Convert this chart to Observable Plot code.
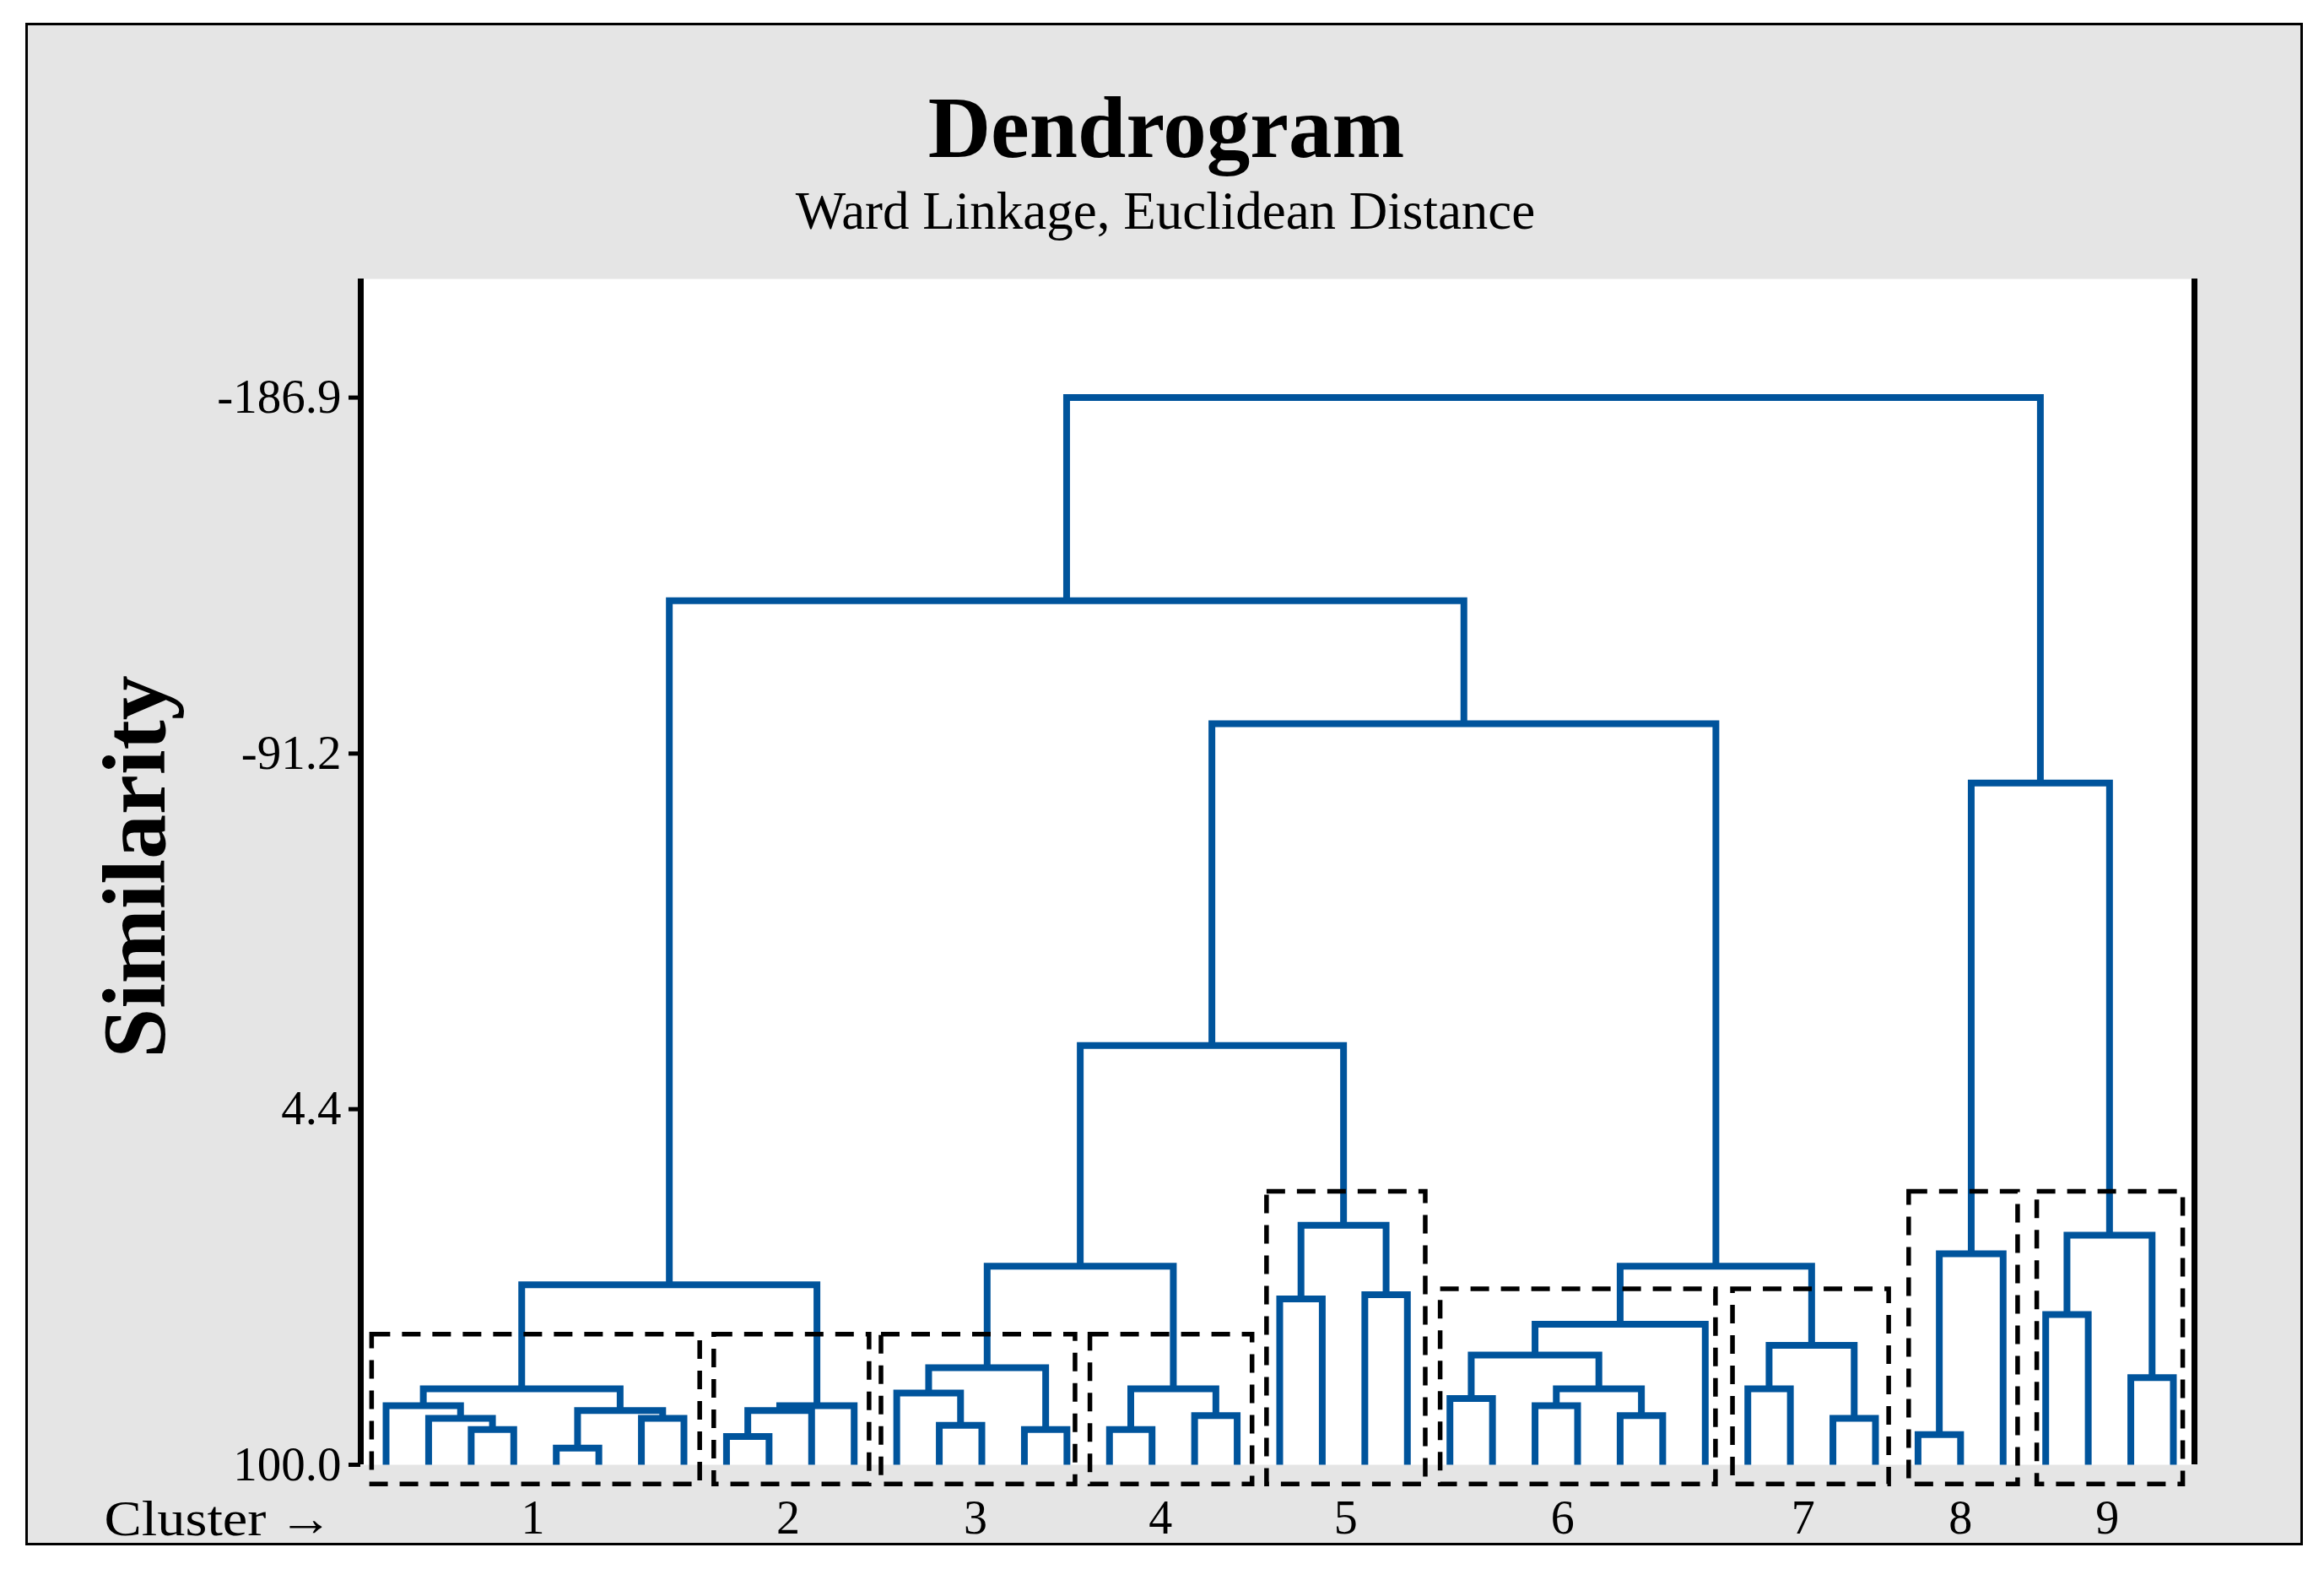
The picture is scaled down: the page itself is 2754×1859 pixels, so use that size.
<!DOCTYPE html>
<html>
<head>
<meta charset="utf-8">
<script src="https://cdn.jsdelivr.net/npm/d3@7"></script>
<script src="https://cdn.jsdelivr.net/npm/@observablehq/plot@0.6"></script>
<style>
  html, body { margin: 0; padding: 0; background: #ffffff; }
  #page { position: relative; width: 2754px; height: 1859px; overflow: hidden; }
  #panel { position: absolute; left: 30px; top: 27px; width: 2699px; height: 1804px;
           box-sizing: border-box; border: 3px solid #000; background: #e5e5e5; }
  #chart { position: absolute; left: 0; top: 0; }
</style>
</head>
<body>
<div id="page"><div id="panel"></div><div id="chart"></div></div>
<script>
// ---------- data ----------
const title = "Dendrogram";
const subtitle = "Ward Linkage, Euclidean Distance";
const yLabel = "Similarity";
const clusterCaption = "Cluster \u2192";
const yTicks = [100.0, 4.4, -91.2, -186.9];
const leafCount = 43;            // observations, leaves 0..42 in display order
const leafSimilarity = 100;
// merges: node ids 0..42 are leaves, merge k gets id 43 + k
const mergeA = [2, 1, 0, 4, 6, 46, 45, 8, 50, 51, 49, 13, 12, 15, 55, 17, 19, 58, 57, 21, 23, 62, 61,
                25, 27, 29, 67, 66, 70, 32, 34, 72, 71, 65, 53, 36, 78, 39, 41, 80, 79, 77];
const mergeB = [3, 43, 44, 5, 7, 47, 48, 9, 10, 11, 52, 14, 54, 16, 56, 18, 20, 59, 60, 22, 24, 63, 64,
                26, 28, 30, 68, 69, 31, 33, 35, 73, 74, 75, 76, 37, 38, 40, 42, 81, 82, 83];
const mergeSim = [90.5, 87.5, 84.1, 95.5, 87.5, 85.4, 79.6, 92.4, 85.4, 84.1, 51.6, 89.4, 80.7, 90.5,
                  73.9, 90.5, 86.8, 79.6, 46.6, 55.4, 54.3, 35.6, -12.7, 82.2, 84.1, 86.8, 79.6, 70.5,
                  62.2, 79.6, 87.5, 67.9, 46.6, -99.2, -132.3, 91.9, 43.3, 59.6, 76.6, 38.3, -83.3, -186.9];
// final clusters (dashed boxes), in leaf-index units and similarity units
const clusterNames = ["1", "2", "3", "4", "5", "6", "7", "8", "9"];
const clusterLabelAt = [3.45, 9.45, 13.85, 18.2, 22.55, 27.65, 33.3, 37.0, 40.45];
const boxFrom = [-0.33, 7.71, 11.64, 16.55, 20.7, 24.78, 31.65, 35.79, 38.8];
const boxTo   = [7.38, 11.36, 16.2, 20.36, 24.43, 31.25, 35.32, 38.35, 42.23];
const boxTop  = [65.0, 65.0, 65.0, 65.0, 26.6, 52.8, 52.8, 26.6, 26.6];
const boxBottom = 105.3;

// ---------- build tree geometry (data units) ----------
const nodeX = d3.range(leafCount);
const nodeH = d3.range(leafCount).map(() => leafSimilarity);
const links = [];
mergeA.forEach((a, k) => {
  const b = mergeB[k], h = mergeSim[k];
  nodeX.push((nodeX[a] + nodeX[b]) / 2);
  nodeH.push(h);
  links.push({id: k, x: nodeX[a], y: nodeH[a]});
  links.push({id: k, x: nodeX[a], y: h});
  links.push({id: k, x: nodeX[b], y: h});
  links.push({id: k, x: nodeX[b], y: nodeH[b]});
});
const boxes = clusterNames.map((n, i) => ({n, x1: boxFrom[i], x2: boxTo[i], y1: boxTop[i], y2: boxBottom}));
const labels = clusterNames.map((n, i) => ({n, x: clusterLabelAt[i]}));

const xDomain = [-0.595, 42.496];
const yDomain = [100, -218.8];
const serif = "'Liberation Serif', 'Times New Roman', serif";
const blue = "#00549c";

const chart = Plot.plot({
  width: 2754,
  height: 1859,
  marginLeft: 427,
  marginRight: 154,
  marginTop: 330,
  marginBottom: 124,
  style: {background: "transparent", fontFamily: serif, color: "black"},
  x: {domain: xDomain, axis: null},
  y: {domain: yDomain, axis: null},
  marks: [
    Plot.frame({fill: "white", stroke: "none"}),
    Plot.line(links, {x: "x", y: "y", z: "id", stroke: blue, strokeWidth: 8,
      strokeLinejoin: "miter", strokeLinecap: "butt", strokeMiterlimit: 10}),
    Plot.rect(boxes, {x1: "x1", x2: "x2", y1: "y1", y2: "y2", fill: "none", stroke: "black",
      strokeWidth: 5.5, strokeDasharray: "22,14"}),
    Plot.ruleX([xDomain[0], xDomain[1]], {stroke: "black", strokeWidth: 7}),
    Plot.axisY({ticks: yTicks, tickFormat: d => d.toFixed(1), tickSize: 14, tickPadding: 9,
      fontSize: 57, fontFamily: serif, strokeWidth: 5, color: "black", label: null}),
    Plot.text(labels, {x: "x", text: "n", frameAnchor: "bottom", lineAnchor: "middle", dy: 64,
      fontSize: 56, fontFamily: serif, fill: "black"}),
    Plot.text([clusterCaption], {frameAnchor: "bottom-left", textAnchor: "start", lineAnchor: "middle",
      dx: -304, dy: 64, fontSize: 60, fontFamily: serif, fill: "black"}),
    Plot.text([yLabel], {frameAnchor: "left", textAnchor: "middle", lineAnchor: "middle", rotate: -90,
      dx: -266, dy: -6, fontSize: 106, fontWeight: "bold", fontFamily: serif, fill: "black"}),
    Plot.text([title], {frameAnchor: "top", textAnchor: "middle", lineAnchor: "middle", dx: -132, dy: -177,
      fontSize: 103, fontWeight: "bold", fontFamily: serif, fill: "black"}),
    Plot.text([subtitle], {frameAnchor: "top", textAnchor: "middle", lineAnchor: "middle", dx: -133, dy: -80,
      fontSize: 63, fontFamily: serif, fill: "black"})
  ]
});
document.getElementById("chart").appendChild(chart);

// the original's caption is set slightly wide with a long thin arrow: stretch the same text element
d3.select(chart).selectAll("text").each(function() {
  if (this.textContent === clusterCaption) {
    const t = d3.select(this);
    t.text(null);
    t.append("tspan").attr("textLength", 192).attr("lengthAdjust", "spacingAndGlyphs").text("Cluster");
    t.append("tspan").text(" ");
    t.append("tspan").attr("textLength", 64).attr("lengthAdjust", "spacingAndGlyphs").text("\u2192");
  }
});
</script>
</body>
</html>
